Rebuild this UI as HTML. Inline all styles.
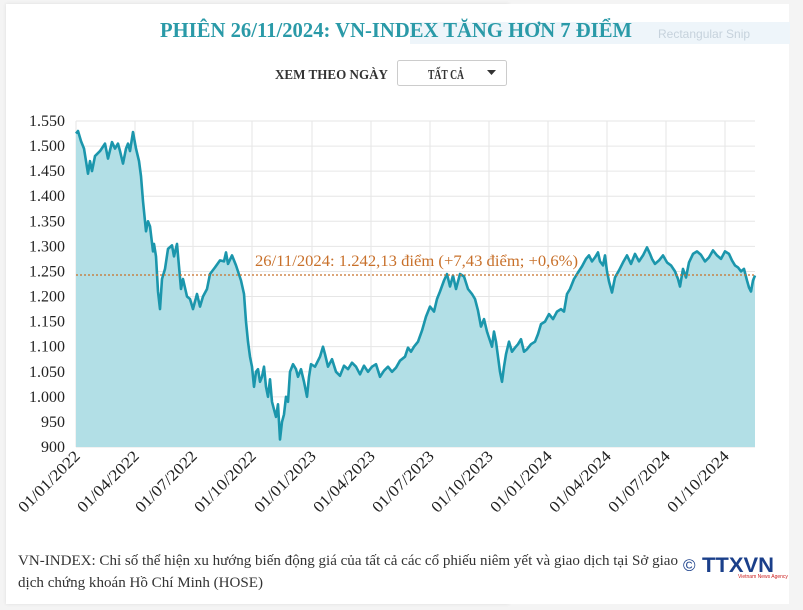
<!DOCTYPE html>
<html><head><meta charset="utf-8"><style>
body{margin:0;width:803px;height:610px;background:#f4f4f4;overflow:hidden;font-family:"Liberation Serif",serif}
.card{position:absolute;left:6px;top:4px;width:504px;height:602px;background:#fff}
</style></head><body>
<div style="position:absolute;left:6px;top:4px;width:505px;height:600px;background:#fff;width:503px"></div>
<div style="position:absolute;left:6px;top:4px;width:503px;height:600px;background:#fff;box-shadow:0 0 3px #ddd;width:503px"></div>
<svg width="803" height="610" style="position:absolute;left:0;top:0" xmlns="http://www.w3.org/2000/svg">
<rect x="6" y="4" width="503" height="600" fill="#fff"/>
<rect x="6" y="4" width="505" height="600" fill="#fff"/>
<rect x="6" y="4" width="502" height="600" fill="#fff"/>
<rect x="6" y="4" width="505" height="600" fill="#fff"/>
<rect x="6" y="4" width="783" height="600" fill="#fff"/>
<rect x="410" y="22" width="380" height="22" fill="#eef5fa"/>
<text x="658" y="38" font-family="Liberation Sans,sans-serif" font-size="12" fill="#c6d2dc">Rectangular Snip</text>
<text x="396" y="37" text-anchor="middle" font-size="21" font-weight="bold" fill="#2a9aa8" textLength="472" lengthAdjust="spacingAndGlyphs">PHIÊN 26/11/2024: VN-INDEX TĂNG HƠN 7 ĐIỂM</text>
<text x="275" y="79" font-size="14" font-weight="bold" fill="#333" textLength="113" lengthAdjust="spacingAndGlyphs">XEM THEO NGÀY</text>
<rect x="397.5" y="60.5" width="109" height="25" rx="2" fill="#fff" stroke="#ccc"/>
<text x="428" y="79" font-size="14" font-weight="bold" fill="#333" textLength="36" lengthAdjust="spacingAndGlyphs">TẤT CẢ</text>
<path d="M487 70h9l-4.5 5z" fill="#333"/>
<g id="grid" stroke="#e6e6e6" stroke-width="1"></g>
<g id="yl" font-size="16" fill="#222" text-anchor="end"></g>
<path id="area" fill="#b2dfe6"/>
<path id="line" fill="none" stroke="#1b96ac" stroke-width="2.6" stroke-linejoin="round"/>
<line x1="76" x2="755" y1="275" y2="275" stroke="#c8702a" stroke-width="1.3" stroke-dasharray="2,2"/>
<text x="255" y="266" font-size="16" fill="#c8702a" textLength="323" lengthAdjust="spacingAndGlyphs">26/11/2024: 1.242,13 điểm (+7,43 điểm; +0,6%)</text>
<g id="xl" font-size="16" fill="#222" text-anchor="end"></g>
<text x="18" y="565" font-size="15" fill="#333" textLength="660" lengthAdjust="spacingAndGlyphs">VN-INDEX: Chỉ số thể hiện xu hướng biến động giá của tất cả các cổ phiếu niêm yết và giao dịch tại Sở giao</text>
<text x="18" y="587" font-size="15" fill="#333" textLength="245" lengthAdjust="spacingAndGlyphs">dịch chứng khoán Hồ Chí Minh (HOSE)</text>
<text x="683" y="571" font-size="17" font-family="Liberation Sans,sans-serif" fill="#1a3f8a">©</text>
<text x="702" y="572" font-size="21" font-weight="bold" font-family="Liberation Sans,sans-serif" fill="#1a3f8a" textLength="72" lengthAdjust="spacingAndGlyphs">TTXVN</text>
<text x="738" y="578" font-size="5" fill="#c22" font-family="Liberation Sans,sans-serif">Vietnam News Agency</text>
</svg>
<script>
var ns="http://www.w3.org/2000/svg";
function Y(v){return 121+(1550-v)*0.5015;}
var g=document.getElementById('grid'),yl=document.getElementById('yl'),xl=document.getElementById('xl');
for(var v=900;v<=1550;v+=50){var l=document.createElementNS(ns,'line');l.setAttribute('x1',76);l.setAttribute('x2',755);l.setAttribute('y1',Y(v));l.setAttribute('y2',Y(v));g.appendChild(l);
var t=document.createElementNS(ns,'text');t.setAttribute('x',65);t.setAttribute('y',Y(v)+5);t.textContent=(v>=1000?(Math.floor(v/1000)+'.'+String(v%1000).padStart(3,'0')):v);yl.appendChild(t);}
var xs=[76,135,193,252,312,371,430,489,548,607,666,725],lb=['01/01/2022','01/04/2022','01/07/2022','01/10/2022','01/01/2023','01/04/2023','01/07/2023','01/10/2023','01/01/2024','01/04/2024','01/07/2024','01/10/2024'];
xs.forEach(function(x,i){var l=document.createElementNS(ns,'line');l.setAttribute('x1',x);l.setAttribute('x2',x);l.setAttribute('y1',121);l.setAttribute('y2',447);g.appendChild(l);
var t=document.createElementNS(ns,'text');t.setAttribute('transform','translate('+(x+5)+',457) rotate(-45)');t.setAttribute('textLength',80);t.setAttribute('lengthAdjust','spacingAndGlyphs');t.textContent=lb[i];xl.appendChild(t);});
var d=[76,1525,78,1530,81,1510,84,1495,86,1470,88,1445,90,1470,92,1450,95,1480,100,1490,105,1505,108,1475,112,1508,115,1495,118,1505,120,1490,123,1465,126,1495,128,1505,130,1490,133,1528,136,1495,139,1470,141,1440,143,1390,146,1330,148,1350,150,1340,153,1290,154,1305,156,1280,158,1210,160,1175,162,1235,165,1255,168,1295,172,1302,174,1280,177,1305,179,1260,181,1215,183,1235,187,1200,190,1195,193,1175,197,1205,200,1180,203,1200,207,1215,210,1245,215,1258,220,1272,224,1270,226,1288,228,1265,232,1282,236,1262,238,1250,241,1232,244,1205,246,1150,248,1110,250,1080,252,1060,254,1020,256,1050,258,1055,260,1030,262,1040,264,1060,266,1020,268,1000,270,1035,272,990,274,975,276,960,278,985,280,915,282,950,284,965,286,1000,288,990,290,1050,293,1065,296,1055,298,1040,301,1055,304,1030,307,1000,309,1040,311,1065,315,1060,320,1080,323,1100,325,1085,328,1060,332,1075,336,1050,340,1042,344,1062,348,1055,352,1068,356,1060,360,1045,364,1062,368,1050,372,1060,376,1065,380,1040,384,1052,388,1060,392,1050,396,1058,400,1072,405,1080,408,1098,411,1090,414,1100,418,1110,422,1132,426,1160,430,1180,434,1170,437,1195,440,1210,444,1232,447,1245,450,1220,453,1242,456,1215,460,1245,464,1240,468,1215,472,1205,475,1195,478,1172,481,1140,484,1155,487,1130,489,1118,492,1100,494,1130,496,1110,498,1080,500,1050,502,1030,504,1060,506,1085,509,1110,512,1090,515,1098,518,1105,521,1115,524,1090,527,1095,531,1105,535,1110,538,1125,541,1145,545,1150,549,1165,553,1155,557,1170,561,1175,564,1170,567,1205,570,1215,574,1235,578,1248,582,1260,586,1275,589,1282,592,1270,595,1278,598,1288,600,1270,603,1262,605,1282,607,1250,609,1230,612,1208,615,1238,619,1252,623,1268,627,1282,631,1265,635,1285,639,1270,643,1282,647,1298,650,1285,652,1275,655,1265,659,1272,663,1282,667,1268,671,1262,675,1250,678,1235,680,1220,683,1255,686,1238,689,1268,693,1285,697,1290,701,1283,705,1270,709,1278,713,1292,717,1282,721,1275,725,1290,729,1285,732,1272,735,1262,738,1258,741,1250,744,1255,747,1232,749,1218,751,1210,753,1232,755,1242];
var p='';for(var i=0;i<d.length;i+=2){p+=(i?'L':'M')+d[i]+' '+Y(d[i+1]).toFixed(1);}
document.getElementById('line').setAttribute('d',p);
document.getElementById('area').setAttribute('d',p+'L755 447L76 447Z');
</script>
</body></html>
